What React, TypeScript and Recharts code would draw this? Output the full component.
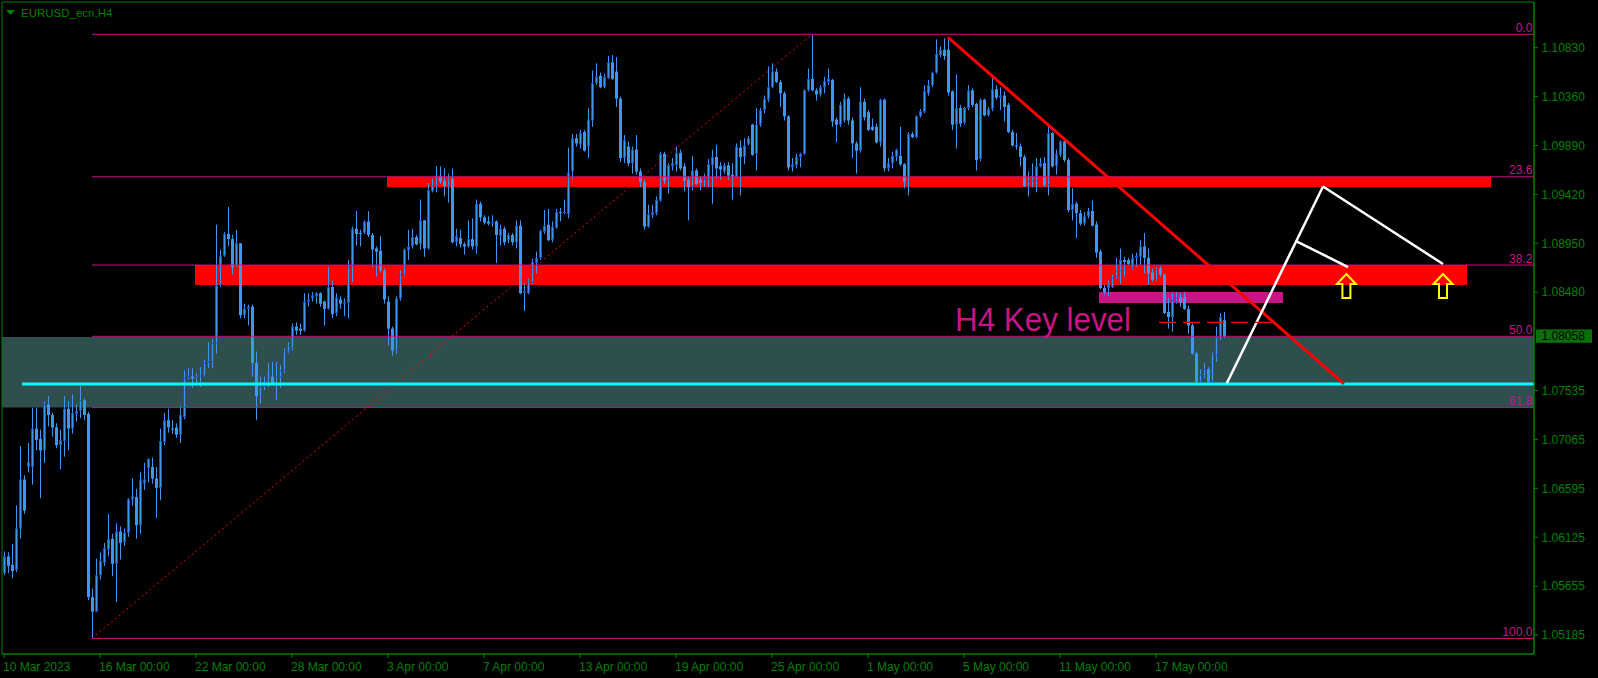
import React from "react";
import { ComposedChart, Bar, XAxis, YAxis, ReferenceArea, ReferenceLine, ReferenceDot } from "recharts";

// ---------- data (EURUSD H4 candles, index 0 = 10 Mar 2023 00:00) ----------
const OPEN = [
  1.0578,1.0594,1.0586,1.0581,1.0621,1.0668,1.0680,1.0680,1.0717,1.0707,
  1.0696,1.0740,1.0730,1.0718,1.0701,1.0705,1.0736,1.0717,1.0731,1.0734,
  1.0744,1.0731,1.0555,1.0541,1.0576,1.0588,1.0601,1.0611,1.0587,1.0618,
  1.0608,1.0617,1.0649,1.0651,1.0624,1.0664,1.0679,1.0680,1.0669,1.0660,
  1.0704,1.0725,1.0717,1.0718,1.0711,1.0728,1.0766,1.0767,1.0766,1.0767,
  1.0767,1.0780,1.0781,1.0799,1.0855,1.0883,1.0904,1.0899,1.0872,1.0895,
  1.0826,1.0832,1.0834,1.0780,1.0748,1.0757,1.0759,1.0767,1.0766,1.0766,
  1.0773,1.0790,1.0794,1.0815,1.0813,1.0811,1.0839,1.0842,1.0844,1.0847,
  1.0839,1.0832,1.0853,1.0828,1.0841,1.0837,1.0838,1.0873,1.0909,1.0905,
  1.0905,1.0916,1.0903,1.0890,1.0888,1.0869,1.0839,1.0813,1.0792,1.0842,
  1.0865,1.0888,1.0892,1.0901,1.0894,1.0917,1.0890,1.0945,1.0950,1.0960,
  1.0955,1.0950,1.0957,1.0896,1.0900,1.0894,1.0892,1.0899,1.0892,1.0933,
  1.0920,1.0916,1.0914,1.0916,1.0902,1.0909,1.0898,1.0903,1.0896,1.0912,
  1.0847,1.0847,1.0857,1.0876,1.0881,1.0906,1.0913,1.0898,1.0910,1.0925,
  1.0924,1.0923,1.0964,1.0996,1.0990,1.1002,1.0988,1.1013,1.1049,1.1056,
  1.1045,1.1054,1.1069,1.1060,1.1034,1.0977,1.0988,1.0972,1.0985,1.0964,
  1.0954,1.0911,1.0922,1.0924,1.0936,1.0981,1.0955,1.0969,1.0970,1.0982,
  1.0969,1.0956,1.0949,1.0965,1.0956,1.0956,1.0956,1.0970,1.0978,1.0969,
  1.0964,1.0970,1.0961,1.0959,1.0987,1.0978,1.0990,1.1009,1.0981,1.1009,
  1.1023,1.1033,1.1045,1.1060,1.1050,1.1039,1.1017,1.0968,1.0970,1.0978,
  1.0981,1.1042,1.1053,1.1042,1.1038,1.1045,1.1050,1.1052,1.1014,1.1009,
  1.1013,1.1034,1.1013,1.0991,1.0984,1.1031,1.1021,1.1007,1.1007,1.0992,
  1.1033,1.0967,1.0972,1.0978,1.0979,1.0971,1.0954,1.1000,1.0997,1.1017,
  1.1021,1.1039,1.1047,1.1059,1.1076,1.1081,1.1081,1.1041,1.1009,1.1025,
  1.1011,1.1025,1.1042,1.1029,1.0976,1.1033,1.1018,1.1024,1.1043,1.1035,
  1.1037,1.1028,1.1002,1.0989,1.0988,1.0978,1.0949,1.0955,1.0955,1.0969,
  1.0972,1.0951,1.1001,1.0969,1.0980,1.0993,1.0975,1.0927,1.0933,1.0924,
  1.0914,1.0921,1.0926,1.0913,1.0887,1.0852,1.0852,1.0853,1.0862,1.0868,
  1.0879,1.0879,1.0871,1.0881,1.0882,1.0892,1.0881,1.0867,1.0860,1.0871,
  1.0865,1.0829,1.0824,1.0838,1.0843,1.0843,1.0832,1.0816,1.0789,1.0762,
  1.0767,1.0774,1.0762,1.0787,1.0805,1.0821,
];
const HIGH = [
  1.0599,1.0598,1.0606,1.0643,1.0700,1.0672,1.0703,1.0737,1.0737,1.0716,
  1.0743,1.0748,1.0732,1.0722,1.0716,1.0748,1.0743,1.0750,1.0740,1.0758,
  1.0746,1.0733,1.0563,1.0592,1.0598,1.0607,1.0635,1.0616,1.0626,1.0623,
  1.0621,1.0650,1.0669,1.0659,1.0675,1.0684,1.0688,1.0689,1.0680,1.0717,
  1.0732,1.0736,1.0725,1.0722,1.0739,1.0773,1.0775,1.0775,1.0770,1.0776,
  1.0783,1.0800,1.0803,1.0913,1.0889,1.0906,1.0930,1.0903,1.0908,1.0895,
  1.0837,1.0836,1.0836,1.0791,1.0767,1.0767,1.0780,1.0781,1.0781,1.0778,
  1.0794,1.0800,1.0818,1.0819,1.0818,1.0847,1.0847,1.0848,1.0848,1.0848,
  1.0840,1.0872,1.0859,1.0847,1.0844,1.0842,1.0879,1.0911,1.0926,1.0908,
  1.0917,1.0926,1.0905,1.0892,1.0902,1.0871,1.0844,1.0815,1.0844,1.0869,
  1.0890,1.0908,1.0909,1.0903,1.0937,1.0917,1.0953,1.0957,1.0969,1.0969,
  1.0967,1.0962,1.0967,1.0909,1.0908,1.0896,1.0917,1.0919,1.0937,1.0935,
  1.0922,1.0921,1.0922,1.0917,1.0913,1.0911,1.0905,1.0905,1.0917,1.0917,
  1.0856,1.0861,1.0880,1.0887,1.0908,1.0927,1.0928,1.0916,1.0928,1.0929,
  1.0937,1.0987,1.1000,1.1000,1.1004,1.1004,1.1025,1.1061,1.1068,1.1059,
  1.1058,1.1075,1.1076,1.1074,1.1036,1.0999,1.0993,1.0988,1.0999,1.0967,
  1.0956,1.0932,1.0932,1.0940,1.0983,1.0983,1.0972,1.0977,1.0988,1.0985,
  1.0972,1.0959,1.0979,1.0967,1.0959,1.0962,1.0976,1.0985,1.0990,1.0973,
  1.0972,1.0973,1.0972,1.0991,1.0994,1.0996,1.0998,1.1010,1.1025,1.1025,
  1.1037,1.1065,1.1068,1.1063,1.1052,1.1041,1.1018,1.0977,1.0981,1.0982,
  1.1043,1.1063,1.1095,1.1044,1.1047,1.1055,1.1063,1.1053,1.1016,1.1031,
  1.1039,1.1036,1.1016,1.0993,1.1045,1.1034,1.1023,1.1015,1.1010,1.1034,
  1.1034,1.0977,1.0983,1.0986,1.1007,1.0972,1.1002,1.1002,1.1018,1.1024,
  1.1047,1.1052,1.1060,1.1091,1.1084,1.1092,1.1093,1.1042,1.1057,1.1028,
  1.1026,1.1047,1.1044,1.1030,1.1034,1.1034,1.1026,1.1054,1.1047,1.1045,
  1.1041,1.1030,1.1004,1.1001,1.0991,1.0980,1.0964,1.0972,1.0977,1.0977,
  1.0978,1.1007,1.1002,1.0985,1.0994,1.0996,1.0977,1.0948,1.0935,1.0927,
  1.0925,1.0929,1.0936,1.0916,1.0889,1.0855,1.0859,1.0865,1.0881,1.0890,
  1.0882,1.0881,1.0885,1.0886,1.0898,1.0905,1.0890,1.0871,1.0872,1.0873,
  1.0866,1.0842,1.0847,1.0848,1.0847,1.0848,1.0835,1.0818,1.0791,1.0774,
  1.0780,1.0776,1.0790,1.0815,1.0828,1.0829,
];
const LOW = [
  1.0576,1.0578,1.0573,1.0579,1.0611,1.0635,1.0675,1.0663,1.0696,1.0650,
  1.0684,1.0719,1.0709,1.0698,1.0678,1.0690,1.0696,1.0712,1.0724,1.0727,
  1.0725,1.0552,1.0515,1.0541,1.0572,1.0585,1.0594,1.0575,1.0550,1.0591,
  1.0604,1.0613,1.0643,1.0611,1.0616,1.0658,1.0665,1.0664,1.0631,1.0648,
  1.0701,1.0713,1.0712,1.0708,1.0703,1.0726,1.0764,1.0756,1.0760,1.0757,
  1.0767,1.0775,1.0775,1.0789,1.0853,1.0882,1.0892,1.0865,1.0872,1.0823,
  1.0823,1.0816,1.0767,1.0725,1.0741,1.0754,1.0757,1.0760,1.0744,1.0756,
  1.0770,1.0789,1.0792,1.0807,1.0807,1.0810,1.0834,1.0839,1.0837,1.0834,
  1.0816,1.0831,1.0823,1.0825,1.0832,1.0825,1.0823,1.0858,1.0893,1.0892,
  1.0904,1.0901,1.0872,1.0863,1.0867,1.0837,1.0797,1.0787,1.0789,1.0840,
  1.0864,1.0879,1.0890,1.0893,1.0889,1.0882,1.0889,1.0944,1.0944,1.0952,
  1.0940,1.0934,1.0895,1.0892,1.0891,1.0884,1.0891,1.0889,1.0885,1.0916,
  1.0913,1.0912,1.0911,1.0876,1.0893,1.0893,1.0895,1.0893,1.0890,1.0846,
  1.0830,1.0846,1.0856,1.0866,1.0879,1.0904,1.0897,1.0896,1.0909,1.0916,
  1.0923,1.0919,1.0957,1.0988,1.0986,1.0983,1.0977,1.1007,1.1047,1.1044,
  1.1044,1.1053,1.1052,1.1026,1.0973,1.0972,1.0969,1.0962,1.0961,1.0949,
  1.0908,1.0910,1.0919,1.0922,1.0935,1.0952,1.0943,1.0965,1.0964,1.0965,
  1.0945,1.0917,1.0946,1.0951,1.0946,1.0949,1.0949,1.0933,1.0957,1.0956,
  1.0962,1.0956,1.0937,1.0958,1.0941,1.0971,1.0989,1.0979,1.0965,1.1007,
  1.1020,1.1031,1.1044,1.1049,1.1026,1.1013,1.0965,1.0964,1.0967,1.0968,
  1.0980,1.1041,1.1041,1.1032,1.1036,1.1039,1.1047,1.1007,1.0992,1.1007,
  1.1011,1.1009,1.0977,1.0962,1.0982,1.1013,1.1003,1.1003,1.0991,1.0988,
  1.0964,1.0964,1.0967,1.0974,1.0969,1.0948,1.0941,1.0996,1.0996,1.1016,
  1.1020,1.1037,1.1045,1.1058,1.1074,1.1071,1.1037,1.1004,1.0986,1.1007,
  1.1009,1.1023,1.1026,1.0965,1.0974,1.1017,1.1017,1.1022,1.1033,1.1023,
  1.1012,1.1001,1.0988,1.0985,1.0969,1.0949,1.0940,1.0949,1.0944,1.0968,
  1.0949,1.0941,1.0968,1.0961,1.0978,1.0973,1.0925,1.0917,1.0900,1.0912,
  1.0912,1.0919,1.0911,1.0881,1.0851,1.0846,1.0844,1.0852,1.0861,1.0856,
  1.0863,1.0874,1.0870,1.0872,1.0874,1.0866,1.0855,1.0858,1.0859,1.0863,
  1.0827,1.0813,1.0810,1.0837,1.0834,1.0831,1.0808,1.0788,1.0760,1.0761,
  1.0765,1.0761,1.0761,1.0781,1.0802,1.0804,
];
const CLOSE = [
  1.0594,1.0585,1.0580,1.0621,1.0668,1.0638,1.0685,1.0717,1.0706,1.0696,
  1.0740,1.0730,1.0718,1.0701,1.0706,1.0736,1.0717,1.0732,1.0734,1.0744,
  1.0730,1.0555,1.0541,1.0576,1.0590,1.0602,1.0611,1.0587,1.0618,1.0607,
  1.0617,1.0649,1.0652,1.0624,1.0668,1.0668,1.0688,1.0669,1.0660,1.0705,
  1.0725,1.0718,1.0716,1.0711,1.0730,1.0766,1.0768,1.0765,1.0767,1.0768,
  1.0780,1.0782,1.0799,1.0855,1.0883,1.0904,1.0899,1.0872,1.0895,1.0826,
  1.0832,1.0834,1.0780,1.0748,1.0757,1.0759,1.0774,1.0760,1.0767,1.0773,
  1.0791,1.0797,1.0815,1.0811,1.0811,1.0839,1.0841,1.0845,1.0847,1.0837,
  1.0832,1.0853,1.0827,1.0843,1.0837,1.0839,1.0873,1.0909,1.0904,1.0904,
  1.0916,1.0903,1.0889,1.0887,1.0869,1.0841,1.0813,1.0792,1.0842,1.0865,
  1.0889,1.0892,1.0901,1.0894,1.0917,1.0890,1.0946,1.0950,1.0960,1.0954,
  1.0950,1.0957,1.0896,1.0902,1.0894,1.0892,1.0899,1.0892,1.0933,1.0920,
  1.0915,1.0914,1.0915,1.0903,1.0909,1.0896,1.0903,1.0896,1.0912,1.0847,
  1.0849,1.0859,1.0877,1.0881,1.0907,1.0912,1.0898,1.0911,1.0925,1.0924,
  1.0925,1.0963,1.0996,1.0991,1.1001,1.0984,1.1014,1.1049,1.1055,1.1045,
  1.1055,1.1069,1.1053,1.1034,1.0977,1.0994,1.0972,1.0985,1.0964,1.0954,
  1.0911,1.0923,1.0925,1.0937,1.0981,1.0955,1.0970,1.0972,1.0982,1.0967,
  1.0955,1.0949,1.0965,1.0952,1.0953,1.0958,1.0971,1.0978,1.0967,1.0966,
  1.0970,1.0960,1.0959,1.0988,1.0978,1.0989,1.0996,1.0980,1.1009,1.1023,
  1.1034,1.1045,1.1060,1.1050,1.1039,1.1017,1.0968,1.0971,1.0978,1.0981,
  1.1042,1.1053,1.1042,1.1038,1.1045,1.1051,1.1053,1.1012,1.1009,1.1028,
  1.1034,1.1013,1.0991,1.0984,1.1031,1.1016,1.1004,1.1004,1.0992,1.1033,
  1.0967,1.0972,1.0979,1.0985,1.0971,1.0954,1.1000,1.0997,1.1017,1.1022,
  1.1041,1.1047,1.1059,1.1077,1.1081,1.1075,1.1040,1.1009,1.1025,1.1010,
  1.1025,1.1042,1.1028,1.0975,1.1033,1.1018,1.1024,1.1043,1.1035,1.1037,
  1.1026,1.1002,1.0989,1.0988,1.0978,1.0950,1.0955,1.0960,1.0969,1.0972,
  1.0951,1.1001,1.0969,1.0981,1.0993,1.0975,1.0927,1.0933,1.0924,1.0914,
  1.0921,1.0926,1.0912,1.0886,1.0852,1.0848,1.0855,1.0862,1.0869,1.0879,
  1.0877,1.0875,1.0881,1.0883,1.0892,1.0881,1.0866,1.0860,1.0870,1.0865,
  1.0828,1.0824,1.0841,1.0843,1.0838,1.0832,1.0816,1.0789,1.0762,1.0769,
  1.0774,1.0762,1.0788,1.0805,1.0824,1.08058,
];

const SLOTS = 383; // candle slots incl. empty chart shift on the right
const X_TICKS = [0, 24, 48, 72, 96, 120, 144, 168, 192, 216, 240, 264, 288];
const X_LABELS = [
  "10 Mar 2023", "16 Mar 00:00", "22 Mar 00:00", "28 Mar 00:00", "3 Apr 00:00",
  "7 Apr 00:00", "13 Apr 00:00", "19 Apr 00:00", "25 Apr 00:00", "1 May 00:00",
  "5 May 00:00", "11 May 00:00", "17 May 00:00",
];
const Y_TICKS = [1.1083, 1.1036, 1.0989, 1.0942, 1.0895, 1.0848, 1.07535, 1.07065, 1.06595, 1.06125, 1.05655, 1.05185];
const PRICE_MIN = 1.05003;
const PRICE_MAX = 1.11269;
const CURRENT_PRICE = 1.08058;

const FIB_PRICES = [1.10959, 1.09589, 1.08741, 1.08056, 1.07371, 1.05153];
const FIB_LABELS = ["0.0", "23.6", "38.2", "50.0", "61.8", "100.0"];
const FIB_FROM = 22;   // swing low candle
const FIB_TO = 202;    // swing high candle

const SUPPORT = 1.07598;
const ZONE_TEAL = [1.07371, 1.0805];
const ZONE_RED_UP = [1.09489, 1.09589];
const ZONE_RED_LOW = [1.0855, 1.08741];
const ZONE_KEY = [1.08376, 1.08482];
const TREND = [[236, 1.1093], [335, 1.07599]];
const PATH_MAIN = [[305.7, 1.07605], [329.75, 1.09496], [359.75, 1.08751]];
const PATH_ALT = [[323.25, 1.08967], [336, 1.08722]];
const DASH_LEVEL = [[288.75, 1.08191], [317, 1.08191]];
const ARROWS = [[335.6, 1.08665], [359.75, 1.08665]];
const KEY_LABEL = [237.75, 1.08107];

// ---------- styling ----------
const W = 1598;
const H = 678;
const FONT = "'Liberation Sans', Arial, sans-serif";
const GREEN = "#008000";
const MAGENTA = "#C71585";
const CANDLE = "#4095EE";
const CANDLE_EDGE = "#2349DA";

const rows = Array.from({ length: SLOTS }, (_, i) =>
  i < OPEN.length
    ? { i, open: OPEN[i], high: HIGH[i], low: LOW[i], close: CLOSE[i] }
    : { i }
);

function Candle(props: any) {
  const { x, y, width, height, payload } = props;
  if (!payload || payload.high == null) return null;
  const { open, close, high, low } = payload;
  const top = Math.min(y, y + height);
  const h = Math.abs(height);
  const span = high - low;
  const py = (v: number) => (span > 0 ? top + ((high - v) / span) * h : top);
  const cx = Math.round(x + width / 2);
  const yo = py(open);
  const yc = py(close);
  const bTop = Math.min(yo, yc);
  const bH = Math.max(1, Math.abs(yc - yo));
  const bull = close > open;
  return (
    <g>
      <rect x={cx} y={top} width={1} height={Math.max(1, h)} fill={CANDLE} />
      {bull ? (
        <g>
          <rect x={cx - 1} y={bTop} width={3} height={bH} fill={CANDLE_EDGE} />
          {bH > 2 && <rect x={cx} y={bTop + 1} width={1} height={bH - 2} fill={CANDLE} />}
        </g>
      ) : (
        <rect x={cx - 1} y={bTop} width={3} height={bH} fill={CANDLE} />
      )}
    </g>
  );
}

function XTick(props: any) {
  const { x, y, payload } = props;
  const idx = X_TICKS.indexOf(payload.value);
  return (
    <text x={x - 1} y={y} dy={10.5} textAnchor="start" fill={GREEN} fontSize={12} fontFamily={FONT}>
      {idx >= 0 ? X_LABELS[idx] : ""}
    </text>
  );
}

const arrowShape = (p: any) => {
  const { cx, cy } = p;
  const d = `M ${cx} ${cy + 1} L ${cx + 9.5} ${cy + 11} L ${cx + 4} ${cy + 11} L ${cx + 4} ${cy + 25} L ${cx - 4} ${cy + 25} L ${cx - 4} ${cy + 11} L ${cx - 9.5} ${cy + 11} Z`;
  return <path d={d} fill="none" stroke="#FFFF00" strokeWidth={2} strokeLinejoin="miter" />;
};

export default function App() {
  const ax = { xAxisId: "num", yAxisId: "p" } as const;
  return (
    <div style={{ position: "absolute", left: 0, top: 0, width: W, height: H, background: "#000", overflow: "hidden" }}>
      <ComposedChart
        width={W}
        height={H}
        data={rows}
        margin={{ top: 2, right: 0, bottom: 0, left: 2 }}
        barCategoryGap={0}
        barGap={0}
      >
        <XAxis
          xAxisId="num"
          dataKey="i"
          type="number"
          domain={[-0.5, 382.5]}
          allowDataOverflow
          ticks={X_TICKS}
          interval={0}
          height={24}
          tickSize={4}
          tickMargin={2}
          tick={(p: any) => <XTick {...p} />}
          tickLine={{ stroke: GREEN }}
          axisLine={{ stroke: GREEN }}
        />
        <XAxis xAxisId="cat" dataKey="i" type="category" orientation="top" height={0} hide />
        <YAxis
          yAxisId="p"
          orientation="right"
          type="number"
          domain={[PRICE_MIN, PRICE_MAX]}
          allowDataOverflow
          ticks={Y_TICKS}
          interval={0}
          width={64}
          tickSize={4}
          tickMargin={3.5}
          tickFormatter={(v: number) => v.toFixed(5)}
          tick={{ fill: GREEN, fontSize: 12, fontFamily: FONT }}
          tickLine={{ stroke: GREEN }}
          axisLine={{ stroke: GREEN }}
        />

        {/* background zones */}
        <ReferenceArea {...ax} x1={-0.5} x2={382.5} y1={ZONE_TEAL[0]} y2={ZONE_TEAL[1]} fill="#2F4F4F" fillOpacity={1} stroke="none" />
        <ReferenceArea {...ax} x1={95.75} x2={371.75} y1={ZONE_RED_UP[0]} y2={ZONE_RED_UP[1]} fill="#FF0000" fillOpacity={1} stroke="none" />
        <ReferenceArea {...ax} x1={47.75} x2={365.75} y1={ZONE_RED_LOW[0]} y2={ZONE_RED_LOW[1]} fill="#FF0000" fillOpacity={1} stroke="none" />
        <ReferenceArea {...ax} x1={273.75} x2={319.75} y1={ZONE_KEY[0]} y2={ZONE_KEY[1]} fill={MAGENTA} fillOpacity={1} stroke="none" />

        {/* candles */}
        <Bar
          xAxisId="cat"
          yAxisId="p"
          dataKey={(d: any) => (d.high == null ? null : [d.low, d.high])}
          barSize={4}
          shape={(p: any) => <Candle {...p} />}
          isAnimationActive={false}
        />

        {/* fibonacci */}
        {FIB_PRICES.map((v, k) => (
          <ReferenceLine key={"fib" + k} {...ax} segment={[{ x: FIB_FROM, y: v }, { x: 382.5, y: v }]} stroke={MAGENTA} strokeWidth={1} />
        ))}
        <ReferenceLine {...ax} segment={[{ x: FIB_FROM, y: FIB_PRICES[5] }, { x: FIB_TO, y: FIB_PRICES[0] }]} stroke="#FF0000" strokeWidth={1} strokeDasharray="2 3" />
        {FIB_PRICES.map((v, k) => (
          <ReferenceDot
            key={"fibl" + k}
            {...ax}
            x={382.1}
            y={v}
            shape={(p: any) => (
              <text x={p.cx} y={p.cy - 2.5} textAnchor="end" fill={MAGENTA} fontSize={12} fontFamily={FONT}>
                {FIB_LABELS[k]}
              </text>
            )}
          />
        ))}

        {/* support line */}
        <ReferenceLine {...ax} segment={[{ x: 4.5, y: SUPPORT }, { x: 382.5, y: SUPPORT }]} stroke="#00FFFF" strokeWidth={3} />

        {/* trendline */}
        <ReferenceLine {...ax} segment={[{ x: TREND[0][0], y: TREND[0][1] }, { x: TREND[1][0], y: TREND[1][1] }]} stroke="#FF0000" strokeWidth={3} />

        {/* projected path */}
        <ReferenceLine {...ax} segment={[{ x: PATH_MAIN[0][0], y: PATH_MAIN[0][1] }, { x: PATH_MAIN[1][0], y: PATH_MAIN[1][1] }]} stroke="#FFFFFF" strokeWidth={2.5} />
        <ReferenceLine {...ax} segment={[{ x: PATH_MAIN[1][0], y: PATH_MAIN[1][1] }, { x: PATH_MAIN[2][0], y: PATH_MAIN[2][1] }]} stroke="#FFFFFF" strokeWidth={2.5} />
        <ReferenceLine {...ax} segment={[{ x: PATH_ALT[0][0], y: PATH_ALT[0][1] }, { x: PATH_ALT[1][0], y: PATH_ALT[1][1] }]} stroke="#FFFFFF" strokeWidth={2.5} />

        {/* dashed level */}
        <ReferenceLine {...ax} segment={[{ x: DASH_LEVEL[0][0], y: DASH_LEVEL[0][1] }, { x: DASH_LEVEL[1][0], y: DASH_LEVEL[1][1] }]} stroke="#FF0000" strokeWidth={1.2} strokeDasharray="17 7" />

        {/* arrows */}
        {ARROWS.map((a, k) => (
          <ReferenceDot key={"arr" + k} {...ax} x={a[0]} y={a[1]} shape={arrowShape} />
        ))}

        {/* key level label */}
        <ReferenceDot
          {...ax}
          x={KEY_LABEL[0]}
          y={KEY_LABEL[1]}
          shape={(p: any) => (
            <text x={p.cx} y={p.cy} textAnchor="start" fill={MAGENTA} fontSize={33} fontFamily={FONT} textLength={176} lengthAdjust="spacingAndGlyphs">
              H4 Key level
            </text>
          )}
        />

        {/* frame */}
        <ReferenceArea {...ax} x1={-0.5} x2={382.5} y1={PRICE_MIN} y2={PRICE_MAX} fill="none" stroke={GREEN} strokeWidth={1} />

        {/* current price tag */}
        <ReferenceDot
          {...ax}
          x={382.5}
          y={CURRENT_PRICE}
          ifOverflow="visible"
          shape={(p: any) => (
            <g>
              <rect x={p.cx + 2} y={p.cy - 6.7} width={56} height={13.4} fill="#0A6E0A" />
              <text x={p.cx + 7.5} y={p.cy} dy="0.36em" fill="#000" fontSize={12} fontFamily={FONT}>
                {CURRENT_PRICE.toFixed(5)}
              </text>
            </g>
          )}
        />
      </ComposedChart>
      <svg style={{ position: "absolute", left: 0, top: 0, pointerEvents: "none" }} width={220} height={24}>
        <polygon points="6,10 15,10 10.5,15" fill={GREEN} />
        <text x={21} y={16.5} fill={GREEN} fontSize={11.5} fontFamily={FONT}>
          EURUSD_ecn,H4
        </text>
      </svg>
    </div>
  );
}
